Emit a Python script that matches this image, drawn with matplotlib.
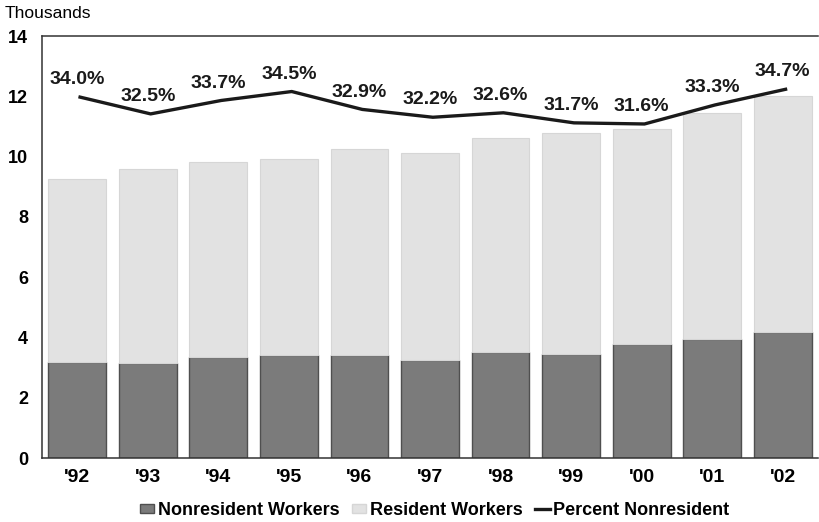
#-----------------------------------------------
# Nonresident vs Resident Workers, 1992-2002
#-----------------------------------------------
import numpy as np
import matplotlib.pyplot as plt
from matplotlib.patches import Patch
from matplotlib.lines import Line2D

#-----------------------------------------------
# Data (thousands of workers, percent nonresident)
#-----------------------------------------------
years = ["'92", "'93", "'94", "'95", "'96", "'97", "'98", "'99", "'00", "'01", "'02"]
nonresident = [3.17, 3.14, 3.34, 3.42, 3.42, 3.26, 3.51, 3.46, 3.78, 3.94, 4.18]
resident = [6.07, 6.45, 6.47, 6.50, 6.84, 6.86, 7.11, 7.32, 7.14, 7.51, 7.82]
pct_nonresident = [34.0, 32.5, 33.7, 34.5, 32.9, 32.2, 32.6, 31.7, 31.6, 33.3, 34.7]

plt.rcParams['font.family'] = ['Liberation Sans', 'DejaVu Sans']

x = np.arange(len(years))

fig = plt.figure(figsize=(8.2, 5.22), dpi=100)
ax = fig.add_axes([0.0512, 0.1226, 0.9464, 0.8084])

#-----------------------------------------------
# Stacked bars
#-----------------------------------------------
ax.bar(x, nonresident, width=0.82, color="#7b7b7b", edgecolor="#4f4f4f",
       linewidth=1.0, label="Nonresident Workers")
ax.bar(x, resident, width=0.82, bottom=nonresident, color="#e2e2e2",
       edgecolor="#d6d6d6", linewidth=0.8, label="Resident Workers")

ax.set_xlim(-0.5, len(years) - 0.5)
ax.set_ylim(0, 14)
ax.set_yticks(range(0, 15, 2))
ax.set_xticks(x)
ax.set_xticklabels(years)
ax.tick_params(axis="y", length=0, labelsize=13, pad=10)
ax.tick_params(axis="x", length=0, labelsize=14, pad=8)
for lbl in ax.get_xticklabels() + ax.get_yticklabels():
    lbl.set_fontweight("bold")

for side in ["left", "top", "bottom"]:
    ax.spines[side].set_color("#333333")
    ax.spines[side].set_linewidth(1.1)
ax.spines["right"].set_visible(False)

fig.text(0.006, 0.974, "Thousands", fontsize=12.5, ha="left", va="center")

#-----------------------------------------------
# Percent nonresident line (hidden second axis)
#-----------------------------------------------
ax2 = ax.twinx()
ax2.set_ylim(1.75, 39.46)
ax2.set_yticks([])
for side in ax2.spines:
    ax2.spines[side].set_visible(False)
ax2.plot(x + 0.04, pct_nonresident, color="#1a1a1a", linewidth=2.4,
         label="Percent Nonresident")
for xi, p in zip(x, pct_nonresident):
    ax2.annotate(f"{p:.1f}%", (xi, p), textcoords="offset points", xytext=(0, 12.5),
                 ha="center", va="center", fontsize=14, fontweight="bold",
                 color="#1a1a1a")

#-----------------------------------------------
# Legend
#-----------------------------------------------
handles = [
    Patch(facecolor="#7b7b7b", edgecolor="#4f4f4f", label="Nonresident Workers"),
    Patch(facecolor="#e2e2e2", edgecolor="#d6d6d6", label="Resident Workers"),
    Line2D([0], [0], color="#1a1a1a", linewidth=2.4, label="Percent Nonresident"),
]
leg = fig.legend(handles=handles, loc="center", bbox_to_anchor=(0.53, 0.022), ncol=3,
                 frameon=False, handlelength=0.8, handleheight=0.45,
                 handletextpad=0.2, columnspacing=0.7,
                 prop={"weight": "bold", "size": 13})

fig.savefig("out.png", dpi=100)
